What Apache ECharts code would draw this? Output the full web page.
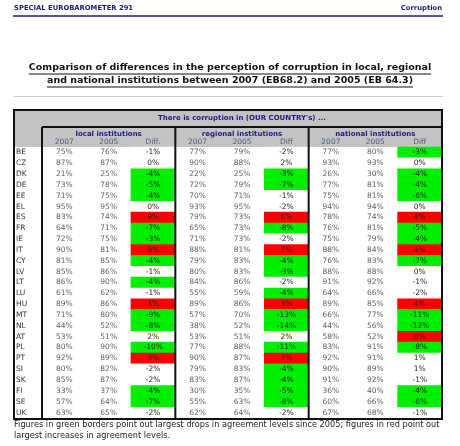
<!DOCTYPE html>
<html><head><meta charset="utf-8">
<script src="https://cdn.jsdelivr.net/npm/echarts@6/dist/echarts.min.js"></script>
<style>html,body{margin:0;padding:0;background:#fff}#c{width:460px;height:446px}</style>
</head><body><div id="c"></div>
<script>
const countries = ['BE','CZ','DK','DE','EE','EL','ES','FR','IE','IT','CY','LV','LT','LU','HU','MT','NL','AT','PL','PT','SI','SK','FI','SE','UK'];
const columnLabels = ['2007','2005','Diff.','2007','2005','Diff','2007','2005','Diff'];
const groupLabels = ['local institutions','regional institutions','national institutions'];
const local2007 = [75,87,21,73,71,95,83,64,72,90,81,85,86,61,89,71,44,53,80,92,80,85,33,57,63];
const local2005 = [76,87,25,78,75,95,74,71,75,81,85,86,90,62,86,80,52,51,90,89,82,87,37,64,65];
const localDiff = [-1,0,-4,-5,-4,0,9,-7,-3,9,-4,-1,-4,-1,3,-9,-8,2,-10,3,-2,-2,-4,-7,-2];
const regional2007 = [77,90,22,72,70,93,79,65,71,88,79,80,84,55,89,57,38,53,77,90,79,83,30,55,62];
const regional2005 = [79,88,25,79,71,95,73,73,73,81,83,83,86,59,86,70,52,51,88,87,83,87,35,63,64];
const regionalDiff = [-2,2,-3,-7,-1,-2,6,-8,-2,7,-4,-3,-2,-4,3,-13,-14,2,-11,3,-4,-4,-5,-8,-2];
const national2007 = [77,93,26,77,75,94,78,76,75,88,76,88,91,64,89,66,44,58,83,92,90,91,36,60,67];
const national2005 = [80,93,30,81,81,94,74,81,79,84,83,88,92,66,85,77,56,52,91,91,89,92,40,66,68];
const nationalDiff = [-3,0,-4,-4,-6,0,4,-5,-4,4,-7,0,-1,-2,4,-11,-12,6,-8,1,1,-1,-4,-6,-1];

const yearCols = [[0,local2007],[1,local2005],[3,regional2007],[4,regional2005],[6,national2007],[7,national2005]];
const diffCols = [[2,localDiff],[5,regionalDiff],[8,nationalDiff]];
const yearData = [], diffData = [];
yearCols.forEach(([c,arr]) => arr.forEach((v,r) => yearData.push([c,r,v])));
diffCols.forEach(([c,arr]) => arr.forEach((v,r) => diffData.push([c,r,v])));

const FONT = 'DejaVu Sans';
const gl = 42, gr = 442, gt = 147, gh = 271, gb = gt + gh;
const colW = (gr - gl) / 9;
const navy = '#1c1c80';

function tw(text, font){ const c=document.createElement('canvas').getContext('2d'); c.font=font; return c.measureText(text).width; }
const t1 = 'Comparison of differences in the perception of corruption in local, regional';
const t2 = 'and national institutions between 2007 (EB68.2) and 2005 (EB 64.3)';
const tFont = 'bold 9.5px "' + FONT + '"';
const w1 = tw(t1, tFont), w2 = tw(t2, tFont);

const blk = {stroke:'#111', lineWidth:2};
const graphic = [
  {type:'text', left:14, top:5, z:100, style:{text:'SPECIAL EUROBAROMETER 291', font:'bold 6.8px "'+FONT+'"', fill:navy}},
  {type:'text', right:18, top:5, z:100, style:{text:'Corruption', font:'bold 6.8px "'+FONT+'"', fill:navy}},
  {type:'line', z:100, shape:{x1:13,y1:16,x2:443,y2:16}, style:{stroke:navy, lineWidth:1.5}},
  {type:'text', z:100, x:230, y:68, style:{text:t1, font:tFont, fill:'#111', align:'center', verticalAlign:'middle'}},
  {type:'text', z:100, x:230, y:81, style:{text:t2, font:tFont, fill:'#111', align:'center', verticalAlign:'middle'}},
  {type:'line', z:100, shape:{x1:230-w1/2,y1:74,x2:230+w1/2,y2:74}, style:{stroke:'#111', lineWidth:1}},
  {type:'line', z:100, shape:{x1:230-w2/2,y1:87,x2:230+w2/2,y2:87}, style:{stroke:'#111', lineWidth:1}},
  {type:'line', z:100, shape:{x1:14,y1:96.5,x2:443,y2:96.5}, style:{stroke:'#cccccc', lineWidth:1}},
  {type:'rect', z:-1, shape:{x:14,y:110,width:428,height:gt-110}, style:{fill:'#c3c3c3'}},
  {type:'text', z:100, x:(gl+gr)/2, y:118.5, style:{text:"There is corruption in (OUR COUNTRY's) ...", font:'bold 7px "'+FONT+'"', fill:navy, align:'center', verticalAlign:'middle'}},
  {type:'rect', z:100, shape:{x:14,y:110,width:428,height:gb+1-110}, style:{fill:null, stroke:'#111', lineWidth:2}},
  {type:'line', z:100, shape:{x1:gl,y1:127,x2:gr,y2:127}, style:blk},
  {type:'line', z:100, shape:{x1:gl,y1:127,x2:gl,y2:gb+1}, style:blk},
  {type:'line', z:100, shape:{x1:gl+3*colW,y1:127,x2:gl+3*colW,y2:gb+1}, style:blk},
  {type:'line', z:100, shape:{x1:gl+6*colW,y1:127,x2:gl+6*colW,y2:gb+1}, style:blk},
  {type:'text', z:100, left:14, top:421, style:{text:'Figures in green borders point out largest drops in agreement levels since 2005; figures in red point out', font:'8.2px "'+FONT+'"', fill:'#222'}},
  {type:'text', z:100, left:14, top:432, style:{text:'largest increases in agreement levels.', font:'8.2px "'+FONT+'"', fill:'#222'}}
];
groupLabels.forEach((g,i) => graphic.push({type:'text', z:100, x:gl+(i*3+1.5)*colW, y:134, style:{text:g, font:'bold 7px "'+FONT+'"', fill:navy, align:'center', verticalAlign:'middle'}}));

const chart = echarts.init(document.getElementById('c'), null, {renderer:'canvas'});
chart.setOption({
  animation:false,
  textStyle:{fontFamily:FONT},
  grid:{left:gl, right:460-gr, top:gt, height:gh},
  xAxis:{type:'category', position:'top', data:columnLabels.map((_,i)=>i),
    axisLine:{show:false}, axisTick:{show:false}, splitLine:{show:false},
    axisLabel:{formatter:(v,i)=>columnLabels[i], fontSize:7.5, color:'#4f5d78', margin:1, interval:0}},
  yAxis:{type:'category', inverse:true, data:countries,
    axisLine:{show:false}, axisTick:{show:false}, splitLine:{show:false},
    axisLabel:{align:'left', margin:gl-16, fontSize:7.5, color:'#333', interval:0}},
  visualMap:{type:'piecewise', show:false, seriesIndex:0, dimension:2,
    pieces:[{lte:-3, color:'#00ee00'},{gte:3, color:'#ff0000'},{gt:-3, lt:3, color:'#ffffff'}]},
  series:[
    {type:'heatmap', data:diffData, z:1,
      label:{show:true, formatter:p=>p.value[2]+'%', fontSize:7.5, color:'#222'},
      emphasis:{disabled:true}},
    {type:'scatter', data:yearData, symbolSize:1, itemStyle:{color:'rgba(0,0,0,0)'}, z:2,
      label:{show:true, position:'inside', formatter:p=>p.value[2]+'%', fontSize:7.5, color:'#333'},
      emphasis:{disabled:true}}
  ],
  graphic:graphic
});
</script></body></html>
